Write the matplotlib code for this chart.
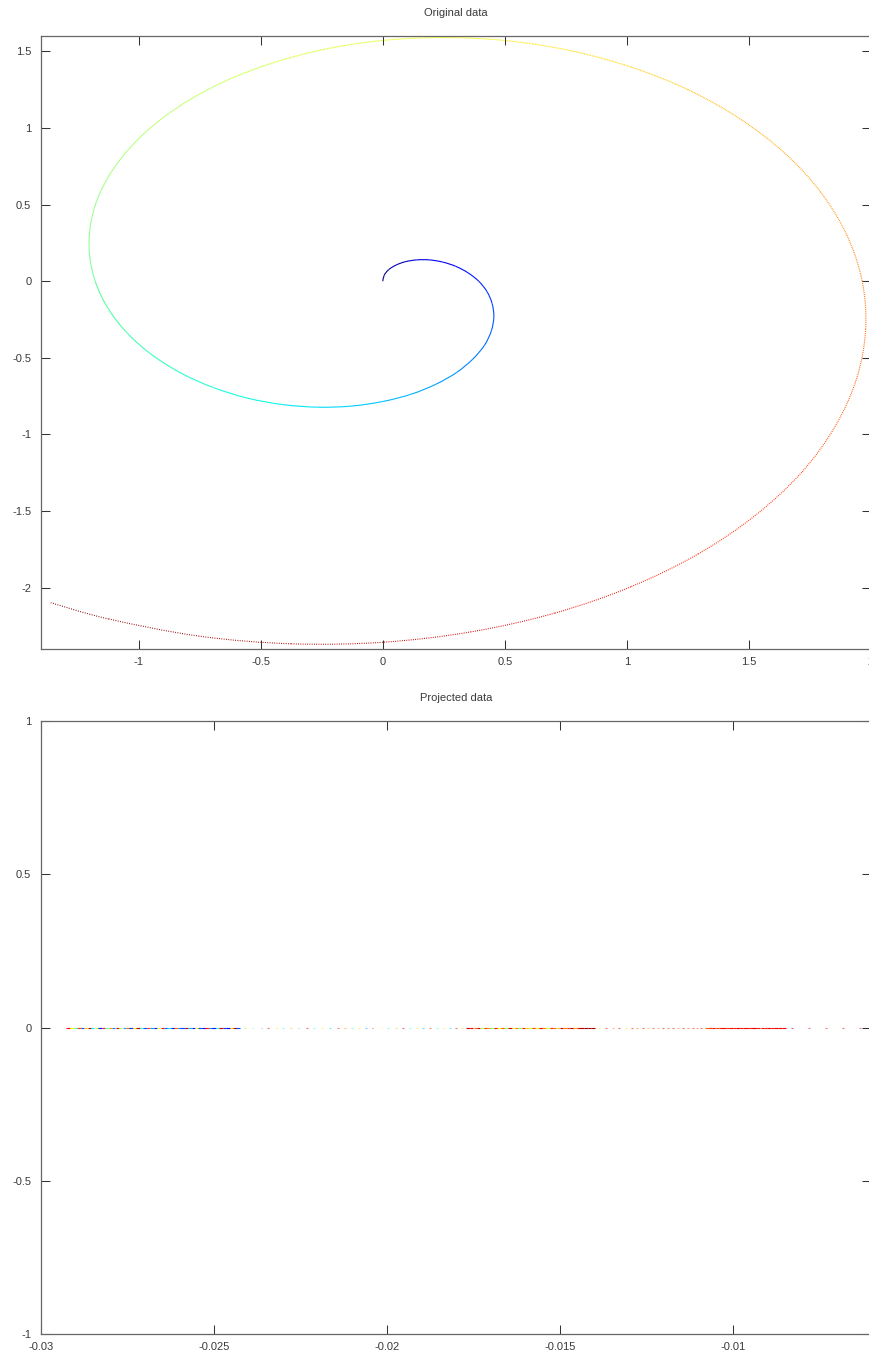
import matplotlib
matplotlib.use("Agg")
import matplotlib.pyplot as plt
import numpy as np
from matplotlib.path import Path
from matplotlib.patches import PathPatch
from matplotlib.ticker import FuncFormatter

# --- original 2-D samples, in sampling order ---
spiral_x = [0.000, 0.006, 0.024, 0.054, 0.092, 0.139, 0.191, 0.245, 0.299, 0.349,
            0.393, 0.427, 0.448, 0.455, 0.445, 0.417, 0.369, 0.303, 0.218, 0.117,
            0.000, -0.129, -0.267, -0.410, -0.554, -0.694, -0.826, -0.945, -1.046, -1.125,
            -1.178, -1.202, -1.195, -1.155, -1.080, -0.972, -0.831, -0.660, -0.461, -0.240,
            0.000, 0.252, 0.510, 0.767, 1.016, 1.250, 1.461, 1.645, 1.793, 1.901,
            1.964, 1.978, 1.942, 1.854, 1.716, 1.527, 1.293, 1.016, 0.704, 0.362,
            0.000, -0.375, -0.752, -1.123, -1.360]
spiral_y = [0.000, 0.039, 0.075, 0.105, 0.127, 0.139, 0.139, 0.125, 0.097, 0.055,
            0.000, -0.068, -0.146, -0.232, -0.323, -0.417, -0.508, -0.595, -0.672, -0.737,
            -0.785, -0.815, -0.822, -0.805, -0.763, -0.694, -0.600, -0.481, -0.340, -0.178,
            0.000, 0.190, 0.388, 0.588, 0.785, 0.972, 1.144, 1.295, 1.419, 1.513,
            1.571, 1.590, 1.569, 1.505, 1.398, 1.250, 1.062, 0.838, 0.583, 0.301,
            0.000, -0.313, -0.631, -0.945, -1.247, -1.527, -1.779, -1.994, -2.166, -2.288,
            -2.356, -2.366, -2.316, -2.204, -2.098]

# --- 1-D projection: densely packed stretches ---
proj_dense = [-0.02921, -0.02911, -0.02900, -0.02891, -0.02880, -0.02871, -0.02860, -0.02851, -0.02839, -0.02830,
              -0.02819, -0.02810, -0.02799, -0.02790, -0.02779, -0.02770, -0.02759, -0.02749, -0.02740, -0.02729,
              -0.02720, -0.02709, -0.02700, -0.02689, -0.02680, -0.02669, -0.02660, -0.02649, -0.02639, -0.02630,
              -0.02619, -0.02610, -0.02599, -0.02590, -0.02579, -0.02570, -0.02559, -0.02549, -0.02540, -0.02529,
              -0.02520, -0.02509, -0.02500, -0.02489, -0.02480, -0.02469, -0.02460, -0.02449, -0.02440, -0.02430,
              -0.01765, -0.01755, -0.01744, -0.01735, -0.01724, -0.01715, -0.01704, -0.01695, -0.01684, -0.01675,
              -0.01664, -0.01655, -0.01644, -0.01634, -0.01625, -0.01614, -0.01605, -0.01594, -0.01585, -0.01574,
              -0.01565, -0.01554, -0.01545, -0.01534, -0.01524, -0.01515, -0.01504, -0.01495, -0.01484, -0.01475,
              -0.01464, -0.01455, -0.01444, -0.01435, -0.01424, -0.01414, -0.01404,
              -0.01075, -0.01065, -0.01055, -0.01045, -0.01034, -0.01025, -0.01015, -0.01004, -0.00995, -0.00985,
              -0.00974, -0.00965, -0.00955, -0.00944, -0.00935, -0.00925, -0.00914, -0.00905, -0.00894, -0.00885,
              -0.00875, -0.00864, -0.00852]
proj_dense_c = [0.90, 0.65, 0.40, 0.85, 0.20, 0.70, 0.95, 0.35, 0.60, 0.15,
                0.88, 0.45, 0.75, 0.25, 0.92, 0.55, 0.30, 0.80, 0.18, 0.66,
                0.95, 0.38, 0.20, 0.85, 0.28, 0.15, 0.62, 0.90, 0.22, 0.35,
                0.12, 0.80, 0.25, 0.18, 0.95, 0.30, 0.15, 0.65, 0.20, 0.10,
                0.88, 0.25, 0.15, 0.40, 0.92, 0.18, 0.12, 0.70, 0.95, 0.20,
                0.92, 0.90, 0.80, 0.92, 0.55, 0.85, 0.75, 0.50, 0.90, 0.65,
                0.82, 0.55, 0.92, 0.60, 0.78, 0.50, 0.88, 0.70, 0.58, 0.85,
                0.66, 0.92, 0.75, 0.60, 0.88, 0.80, 0.70, 0.93, 0.78, 0.85,
                0.95, 0.72, 0.90, 0.95, 0.97, 0.95, 0.97,
                0.80, 0.85, 0.90, 0.82, 0.88, 0.90, 0.86, 0.90, 0.88, 0.91,
                0.89, 0.90, 0.88, 0.90, 0.91, 0.89, 0.90, 0.88, 0.90, 0.89,
                0.91, 0.90, 0.90]

# --- 1-D projection: isolated samples between the stretches ---
proj_sparse = [-0.02410, -0.02389, -0.02363, -0.02343, -0.02317, -0.02300, -0.02277, -0.02256, -0.02230, -0.02210,
               -0.02187, -0.02164, -0.02141, -0.02121, -0.02100, -0.02080, -0.02060, -0.02042, -0.02016, -0.01996,
               -0.01973, -0.01953, -0.01933, -0.01912, -0.01895, -0.01875, -0.01855, -0.01834, -0.01817, -0.01800,
               -0.01782,
               -0.01386, -0.01366, -0.01346, -0.01329, -0.01308, -0.01291, -0.01277, -0.01259, -0.01245, -0.01230,
               -0.01216, -0.01201, -0.01187, -0.01173, -0.01158, -0.01144, -0.01129, -0.01115, -0.01103, -0.01092,
               -0.00829, -0.00779, -0.00730, -0.00681, -0.00632]
proj_sparse_c = [0.65, 0.40, 0.30, 0.90, 0.65, 0.38, 0.70, 0.30, 0.90, 0.40,
                 0.62, 0.35, 0.88, 0.75, 0.40, 0.65, 0.30, 0.90, 0.62, 0.38,
                 0.70, 0.92, 0.40, 0.65, 0.30, 0.88, 0.40, 0.62, 0.35, 0.90,
                 0.70,
                 0.65, 0.90, 0.75, 0.92, 0.65, 0.90, 0.80, 0.92, 0.70, 0.88,
                 0.78, 0.92, 0.85, 0.90, 0.75, 0.92, 0.85, 0.90, 0.82, 0.90,
                 1.00, 0.90, 0.90, 0.90, 0.90]

top_xticks = [-1, -0.5, 0, 0.5, 1, 1.5, 2]
top_yticks = [-2, -1.5, -1, -0.5, 0, 0.5, 1, 1.5]
bot_xticks = [-0.03, -0.025, -0.02, -0.015, -0.01]
bot_yticks = [-1, -0.5, 0, 0.5, 1]

plt.rcParams["font.family"] = ["Liberation Sans", "DejaVu Sans"]
plt.rcParams["axes.unicode_minus"] = False

TEXT = "#3a3a3a"
W, H = 869, 1360
fig = plt.figure(figsize=(W / 100, H / 100), dpi=100)
ax1 = fig.add_axes([41 / W, (H - 649) / H, 830 / W, 613 / H])
ax2 = fig.add_axes([41 / W, (H - 1334) / H, 830 / W, 613 / H])

fmt = FuncFormatter(lambda v, p: "%g" % v)
jet = plt.get_cmap("jet")


def style(ax, title):
    for s in ax.spines.values():
        s.set_color("#666666")
        s.set_linewidth(0.9)
    ax.tick_params(direction="in", length=6.5, width=0.75, color="#333333",
                   top=True, right=True, labelsize=8, labelcolor=TEXT)
    ax.tick_params(axis="y", pad=7)
    ax.tick_params(axis="x", pad=6)
    ax.xaxis.set_major_formatter(fmt)
    ax.yaxis.set_major_formatter(fmt)
    ax.set_title(title, fontsize=8, color=TEXT, pad=14.5)


# spiral: smooth cubic pieces through consecutive samples, jet-coloured by order;
# the sparser outer turns are drawn with a fine dotted stroke
P = np.column_stack([spiral_x, spiral_y])
n = len(P)
for i in range(n - 1):
    p0, p1, p2, p3 = P[max(i - 1, 0)], P[i], P[i + 1], P[min(i + 2, n - 1)]
    c1 = p1 + (p2 - p0) / 6.0
    c2 = p2 - (p3 - p1) / 6.0
    path = Path([p1, c1, c2, p2], [Path.MOVETO, Path.CURVE4, Path.CURVE4, Path.CURVE4])
    rad = 0.5 * (np.hypot(*p1) + np.hypot(*p2))
    gap = max(0.0, 0.9 * (rad - 1.0))
    ls = "-" if gap < 0.15 else (0, (0.8, gap))
    ax1.add_patch(PathPatch(path, fill=False, edgecolor=jet((i + 0.5) / (n - 1)),
                            lw=0.8, linestyle=ls, capstyle="butt"))
ax1.set_xlim(-1.4, 2.0)
ax1.set_ylim(-2.4, 1.6)
ax1.set_xticks(top_xticks)
ax1.set_yticks(top_yticks)
style(ax1, "Original data")

# projected values along y = 0
ax2.scatter(proj_sparse, np.zeros(len(proj_sparse)), c=proj_sparse_c, cmap="jet",
            vmin=0, vmax=1, marker="_", s=1.3, linewidths=0.8, alpha=0.55)
ax2.scatter(proj_dense, np.zeros(len(proj_dense)), c=proj_dense_c, cmap="jet",
            vmin=0, vmax=1, marker="_", s=7.0, linewidths=0.8)
ax2.set_xlim(-0.03, -0.006)
ax2.set_ylim(-1, 1)
ax2.set_xticks(bot_xticks)
ax2.set_yticks(bot_yticks)
style(ax2, "Projected data")

fig.savefig("out.png", dpi=100)
